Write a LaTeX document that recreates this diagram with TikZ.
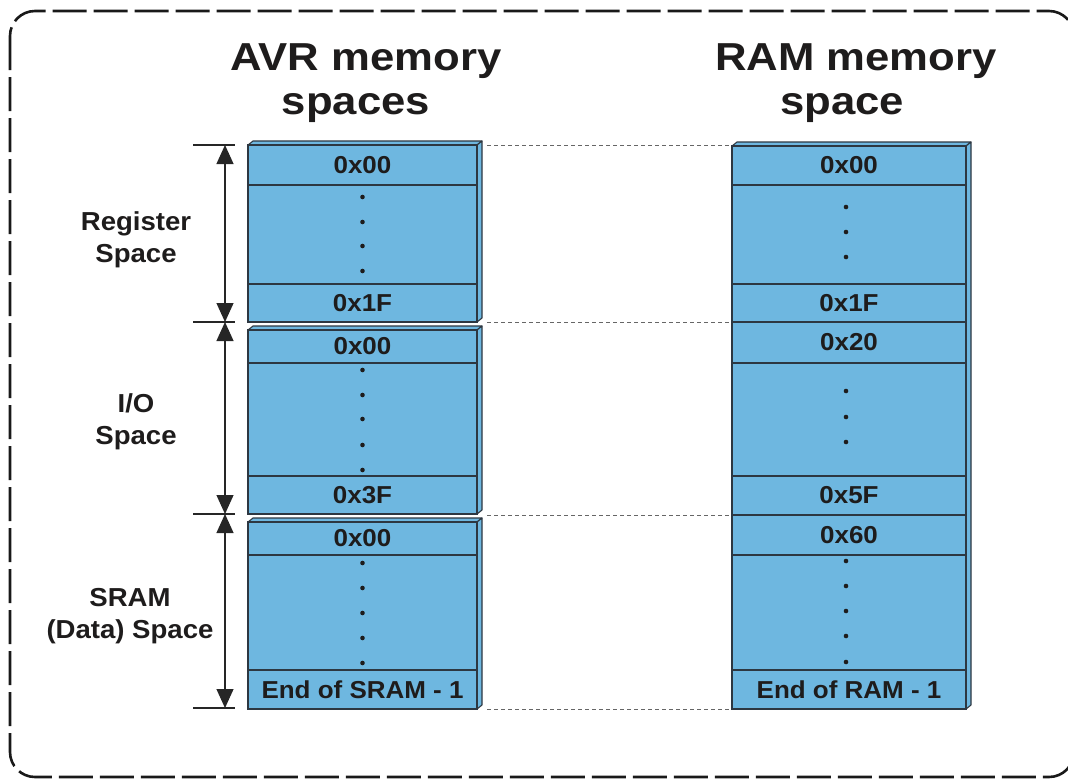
\documentclass[tikz,border=0pt]{standalone}
\usepackage{fontspec}
\setmainfont{Liberation Sans}
\newfontfamily\titlefont[FakeStretch=1.12]{Liberation Sans}
\newfontfamily\lblfont[FakeStretch=1.06]{Liberation Sans}
\usetikzlibrary{arrows.meta}
\definecolor{memblue}{RGB}{110,183,224}
\definecolor{edgec}{RGB}{45,55,65}
\definecolor{txt}{RGB}{30,28,28}
\tikzset{
  cell/.style={draw=edgec, fill=memblue, line width=1.1pt, anchor=north west,
    inner sep=0pt, outer sep=0pt, minimum height=#1, text=txt,
    font=\lblfont\bfseries\fontsize{24.5}{28}\selectfont},
  lcell/.style={cell=#1, minimum width=229pt},
  rcell/.style={cell=#1, minimum width=234pt},
  face/.style={draw=edgec, fill=memblue, line width=1.1pt, line join=round},
  ttl/.style={anchor=base, text=txt, font=\titlefont\bfseries\fontsize{39}{44}\selectfont},
  side/.style={align=center, text=txt, font=\lblfont\bfseries\fontsize{26}{32}\selectfont},
  dim/.style={draw=black!85, line width=1.2pt,
    {Triangle[width=17pt,length=19pt]}-{Triangle[width=17pt,length=19pt]}},
  tick/.style={draw=black!85, line width=1.1pt},
  link/.style={draw=black!60, line width=0.9pt, dash pattern=on 4pt off 3pt},
  frame/.style={draw=black!90, line width=2.6pt, dash pattern=on 34pt off 7pt, rounded corners=25pt},
  dot/.style={fill=txt}
}
\begin{document}
\begin{tikzpicture}[x=1pt,y=-1pt]
\useasboundingbox (0,0) rectangle (1068,780);
\begin{scope}
\clip (0,0) rectangle (1068,780);
\draw[frame] (10,11) rectangle (1074,777);
\end{scope}

% titles
\node[ttl] (t1a) at (366,70) {AVR memory};
\node[ttl] (t1b) at (356,114) {spaces};
\node[ttl] (t2a) at (856,70) {RAM memory};
\node[ttl] (t2b) at (842,114) {space};

% side labels
\node[side] (s1) at (136,240) {Register\\Space};
\node[side] (s2) at (136,422) {I/O\\Space};
\node[side] (s3) at (130,616) {SRAM\\(Data) Space};

% left 3D faces
\foreach \T/\B in {145/322, 330/514, 522/709}{
  \draw[face] (248,\T) -- (253,\T-4) -- (482,\T-4) -- (477,\T) -- cycle;
  \draw[face] (477,\T) -- (482,\T-4) -- (482,\B-4) -- (477,\B) -- cycle;
}
% right 3D faces
\draw[face] (732,146) -- (737,142) -- (971,142) -- (966,146) -- cycle;
\draw[face] (966,146) -- (971,142) -- (971,705) -- (966,709) -- cycle;

% left rows
\node[lcell=40pt] (L1) at (248,145) {0x00};
\node[lcell=99pt] (L2) at (248,185) {};
\node[lcell=38pt] (L3) at (248,284) {0x1F};
\node[lcell=33pt] (L4) at (248,330) {0x00};
\node[lcell=113pt] (L5) at (248,363) {};
\node[lcell=38pt] (L6) at (248,476) {0x3F};
\node[lcell=33pt] (L7) at (248,522) {0x00};
\node[lcell=115pt] (L8) at (248,555) {};
\node[lcell=39pt] (L9) at (248,670) {End of SRAM - 1};

% right rows
\node[rcell=39pt] (R1) at (732,146) {0x00};
\node[rcell=99pt] (R2) at (732,185) {};
\node[rcell=38pt] (R3) at (732,284) {0x1F};
\node[rcell=41pt] (R4) at (732,322) {0x20};
\node[rcell=113pt] (R5) at (732,363) {};
\node[rcell=39pt] (R6) at (732,476) {0x5F};
\node[rcell=40pt] (R7) at (732,515) {0x60};
\node[rcell=115pt] (R8) at (732,555) {};
\node[rcell=39pt] (R9) at (732,670) {End of RAM - 1};

% dots
\foreach \y in {197,222,246,271,370,395,419,445,470,563,588,613,638,663}
  \fill[dot] (362.5,\y) circle[radius=2.3pt];
\foreach \y in {207,232,257,391,417,442,561,586,611,636,662}
  \fill[dot] (846,\y) circle[radius=2.3pt];

% dimension arrows
\coordinate (a0) at (225,145);
\coordinate (a1) at (225,322);
\coordinate (a2) at (225,514);
\coordinate (a3) at (225,708);
\foreach \n/\y in {0/145,1/322,2/514,3/708}{
  \coordinate (tl\n) at (193,\y);
  \coordinate (tr\n) at (235,\y);
  \draw[tick] (tl\n) -- (tr\n);
}
\draw[dim] (a0) -- (a1);
\draw[dim] (a1) -- (a2);
\draw[dim] (a2) -- (a3);

% dashed links
\foreach \n/\y in {1/145,2/322,3/515,4/709}{
  \coordinate (kl\n) at (487,\y);
  \coordinate (kr\n) at (729,\y);
  \draw[link] (kl\n) -- (kr\n);
}
\end{tikzpicture}
\end{document}
